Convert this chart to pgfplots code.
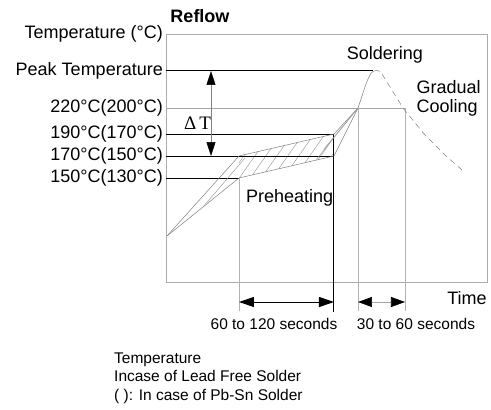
\documentclass[border=0pt]{standalone}
\usepackage{pgfplots}
\pgfplotsset{compat=1.18}
\usepackage{fontspec}
\setmainfont{Liberation Sans}
\newfontfamily\serifT{Liberation Serif}
\usetikzlibrary{arrows.meta,patterns.meta}
\newcommand{\bigf}{\fontsize{18}{20.5}\selectfont}
\newcommand{\smf}{\fontsize{15.5}{18}\selectfont}
\begin{document}
\begin{tikzpicture}
\useasboundingbox (-166pt,-128pt) rectangle (325pt,282pt);
\begin{axis}[x=1pt,y=1pt, xmin=0,xmax=321, ymin=0,ymax=248,
  axis line style={gray!65, line width=0.7pt},
  xtick=\empty,
  ytick={104,126,148,174,211,248},
  yticklabels={150°C(130°C),170°C(150°C),190°C(170°C),220°C(200°C),Peak Temperature,Temperature (°C)},
  major tick length=0pt,
  yticklabel style={font=\bigf, inner sep=0pt, xshift=-3pt},
  clip=false]
% hatched preheating band
\addplot[draw=none, pattern={Lines[angle=55,distance=9pt,line width=0.45pt]}, pattern color=gray!80]
  coordinates {(73,104) (168,126) (168,148) (73,126)} -- cycle;
% horizontal reference lines
\addplot[black, line width=1pt] coordinates {(0,211) (207,211)};
\addplot[gray!70, line width=0.7pt] coordinates {(0,174) (239,174)};
\addplot[black, line width=1pt] coordinates {(0,148) (168,148)};
\addplot[black, line width=1pt] coordinates {(0,126) (168,126)};
\addplot[black, line width=1pt] coordinates {(0,104) (73,104)};
% vertical lines
\addplot[gray!60, line width=0.8pt] coordinates {(73,104) (73,-29)};
\addplot[black, line width=1pt] coordinates {(168,148) (168,-30)};
\addplot[gray!60, line width=0.8pt] coordinates {(192,174) (192,-29)};
\addplot[gray!60, line width=0.8pt] coordinates {(239,174) (239,-29)};
% profile lines
\addplot[gray, line width=0.5pt] coordinates {(1,46) (73,126) (168,148) (192,174)};
\addplot[gray, line width=0.5pt] coordinates {(1,46) (73,104) (168,126) (192,174)};
\addplot[gray!80, line width=0.45pt] coordinates {(37,75) (79,124)};
\addplot[gray!80, line width=0.45pt] coordinates {(158,133) (192,174)};
\addplot[gray!80, line width=0.45pt] coordinates {(150,122) (192,174)};
% rise to peak
\addplot[gray, line width=0.5pt, smooth] coordinates {(192,174) (196,186) (200,198) (204,207) (207,210.5) (211,211.5) (214,210.5)};
% cooling
\addplot[gray, line width=0.5pt, dash pattern=on 6pt off 4pt] coordinates {(216,208) (237,174) (259,147) (279,127) (296,112)};
% Delta T arrow
\addplot[gray, line width=0.5pt, {Triangle[black,length=14pt,width=9pt]}-{Triangle[black,length=14pt,width=9pt]}] coordinates {(45,211) (45,126)};
% time arrows
\addplot[black, line width=1pt, {Triangle[black,length=15pt,width=10pt]}-{Triangle[black,length=15pt,width=10pt]}] coordinates {(73,-20) (168,-20)};
\addplot[gray!70, line width=0.7pt, {Triangle[black,length=14pt,width=10pt]}-{Triangle[black,length=14pt,width=10pt]}] coordinates {(192,-20) (239,-20)};
% texts
\node[font=\bigf\bfseries] at (axis cs:34,266) {Reflow};
\node[font=\serifT\fontsize{19}{21}\selectfont] at (axis cs:31.5,159) {Δ\hspace{3pt}T};
\node[font=\bigf] at (axis cs:219,227) {Soldering};
\node[font=\bigf, align=left, anchor=west] at (axis cs:247,183.5) {Gradual\\[-1.5pt]Cooling};
\node[font=\bigf, anchor=west, inner sep=0pt] at (axis cs:80,84) {Preheating};
\node[font=\bigf] at (axis cs:301,-16) {Time};
\node[font=\smf] at (axis cs:108,-42) {60 to 120 seconds};
\node[font=\smf] at (axis cs:250,-42) {30 to 60 seconds};
\node[font=\smf, anchor=base west, inner sep=0pt] at (axis cs:-52,-81.5) {Temperature};
\node[font=\smf, anchor=base west, inner sep=0pt] at (axis cs:-52,-99.5) {Incase of Lead Free Solder};
\node[font=\smf, anchor=base west, inner sep=0pt] at (axis cs:-52,-118) {( ): In case of Pb-Sn Solder};
\end{axis}
\end{tikzpicture}
\end{document}
